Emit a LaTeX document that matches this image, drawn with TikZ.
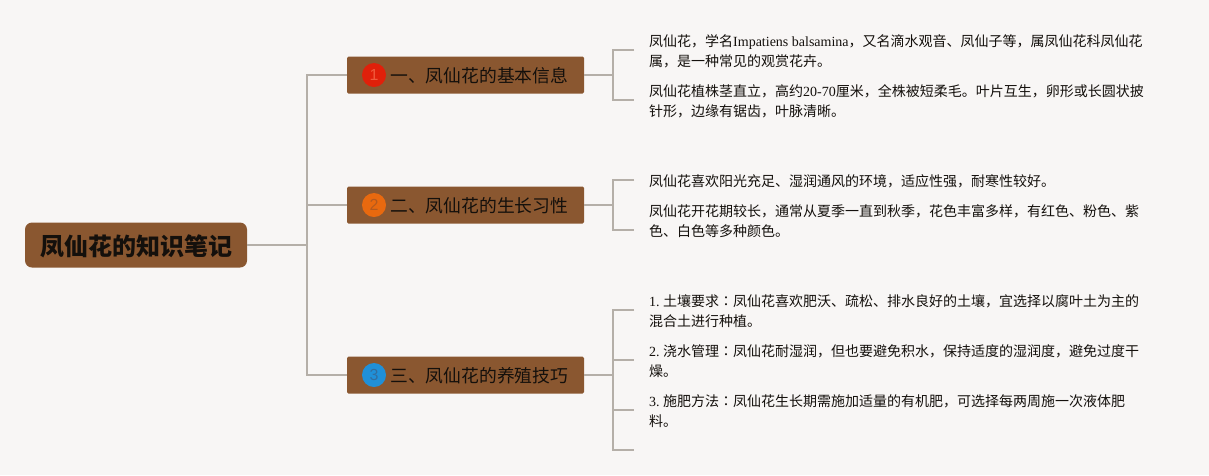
\documentclass[tikz,border=0pt]{standalone}
\usepackage{fontspec}
\usepackage{xcolor}
\setmainfont{Noto Sans CJK SC}
\newfontfamily\latfont{Liberation Serif}
\newfontfamily\numfont{Liberation Sans}
\newfontfamily\colonfont{Noto Sans CJK TC}
\newcommand{\lat}[1]{{\latfont #1}}
\newcommand{\colonmark}{{\colonfont ：}}
\definecolor{paper}{HTML}{F8F6F5}
\definecolor{bark}{HTML}{8A5730}
\definecolor{stem}{HTML}{B5AFA8}
\definecolor{ink}{HTML}{14100C}
\tikzset{
  rootbox/.style={fill=bark, rounded corners=7pt, minimum width=222pt, minimum height=45pt, inner sep=0pt},
  roottext/.style={inner sep=0pt, text=ink, font=\fontsize{24}{28}\selectfont\bfseries},
  topicbox/.style={fill=bark, rounded corners=1.5pt, minimum width=237pt, minimum height=37pt, inner sep=0pt},
  topictext/.style={inner sep=0pt, text=ink, font=\fontsize{17.8}{22}\selectfont},
  badge/.style={circle, minimum size=24pt, inner sep=0pt, font=\numfont\fontsize{16}{20}\selectfont},
  leaftext/.style={anchor=west, inner sep=0pt, align=left, text=ink, font=\fontsize{14}{20}\selectfont},
  link/.style={draw=stem, line width=1.3pt}
}
\begin{document}
\begin{tikzpicture}[x=1pt, y=-1pt]
\fill[paper] (0,0) rectangle (1209,475);
\useasboundingbox (0,0) rectangle (1209,475);
% 中心主题
\node[rootbox] (root) at (136,245) {};
\node[roottext] (rootlabel) at (136,246.5) {凤仙花的知识笔记};
% 分支主题
\node[topicbox] (topicone) at (465.5,75) {};
\node[topicbox] (topictwo) at (465.5,205) {};
\node[topicbox] (topicthree) at (465.5,375) {};
\node[badge, fill={rgb,255:red,224;green,32;blue,10}, text={rgb,255:red,240;green,90;blue,60}] (badgeone) at (374,75) {1};
\node[badge, fill={rgb,255:red,232;green,105;blue,15}, text={rgb,255:red,180;green,90;blue,30}] (badgetwo) at (374,205) {2};
\node[badge, fill={rgb,255:red,32;green,144;blue,216}, text={rgb,255:red,50;green,110;blue,160}] (badgethree) at (374,375) {3};
\node[topictext, anchor=west] (labelone) at (390,76) {一、凤仙花的基本信息};
\node[topictext, anchor=west] (labeltwo) at (390,206) {二、凤仙花的生长习性};
\node[topictext, anchor=west] (labelthree) at (390,376) {三、凤仙花的养殖技巧};
% 正文
\node[leaftext] (textone) at (649,51.2) {凤仙花，学名\lat{Impatiens balsamina}，又名滴水观音、凤仙子等，属凤仙花科凤仙花\\属，是一种常见的观赏花卉。};
\node[leaftext] (texttwo) at (649,101.2) {凤仙花植株茎直立，高约\lat{20-70}厘米，全株被短柔毛。叶片互生，卵形或长圆状披\\针形，边缘有锯齿，叶脉清晰。};
\node[leaftext] (textthree) at (649,181.2) {凤仙花喜欢阳光充足、湿润通风的环境，适应性强，耐寒性较好。};
\node[leaftext] (textfour) at (649,221.2) {凤仙花开花期较长，通常从夏季一直到秋季，花色丰富多样，有红色、粉色、紫\\色、白色等多种颜色。};
\node[leaftext] (textfive) at (649,311.2) {\lat{1.}\hspace{3.5pt}土壤要求\colonmark 凤仙花喜欢肥沃、疏松、排水良好的土壤，宜选择以腐叶土为主的\\混合土进行种植。};
\node[leaftext] (textsix) at (649,361.2) {\lat{2.}\hspace{3.5pt}浇水管理\colonmark 凤仙花耐湿润，但也要避免积水，保持适度的湿润度，避免过度干\\燥。};
\node[leaftext] (textseven) at (649,411.2) {\lat{3.}\hspace{3.5pt}施肥方法\colonmark 凤仙花生长期需施加适量的有机肥，可选择每两周施一次液体肥\\料。};
% 连线
\coordinate (rootbus) at (307,245);
\coordinate (busone) at (613,75);
\coordinate (bustwo) at (613,205);
\coordinate (busthree) at (613,375);
\coordinate (leafa) at (634,50);
\coordinate (leafb) at (634,100);
\coordinate (leafc) at (634,180);
\coordinate (leafd) at (634,230);
\coordinate (leafe) at (634,310);
\coordinate (leaff) at (634,360);
\coordinate (leafg) at (634,410);
\coordinate (leafh) at (634,450);
\draw[link] (root.east) -- (rootbus);
\draw[link] (topicone.west) -| (rootbus) |- (topicthree.west);
\draw[link] (rootbus) |- (topictwo.west);
\draw[link] (topicone.east) -- (busone);
\draw[link] (topictwo.east) -- (bustwo);
\draw[link] (topicthree.east) -- (busthree);
\draw[link] (leafa) -| (busone) |- (leafb);
\draw[link] (leafc) -| (bustwo) |- (leafd);
\draw[link] (leafe) -| (busthree) |- (leafh);
\draw[link] (busthree) |- (leaff);
\draw[link] (busthree) |- (leafg);
\end{tikzpicture}
\end{document}
